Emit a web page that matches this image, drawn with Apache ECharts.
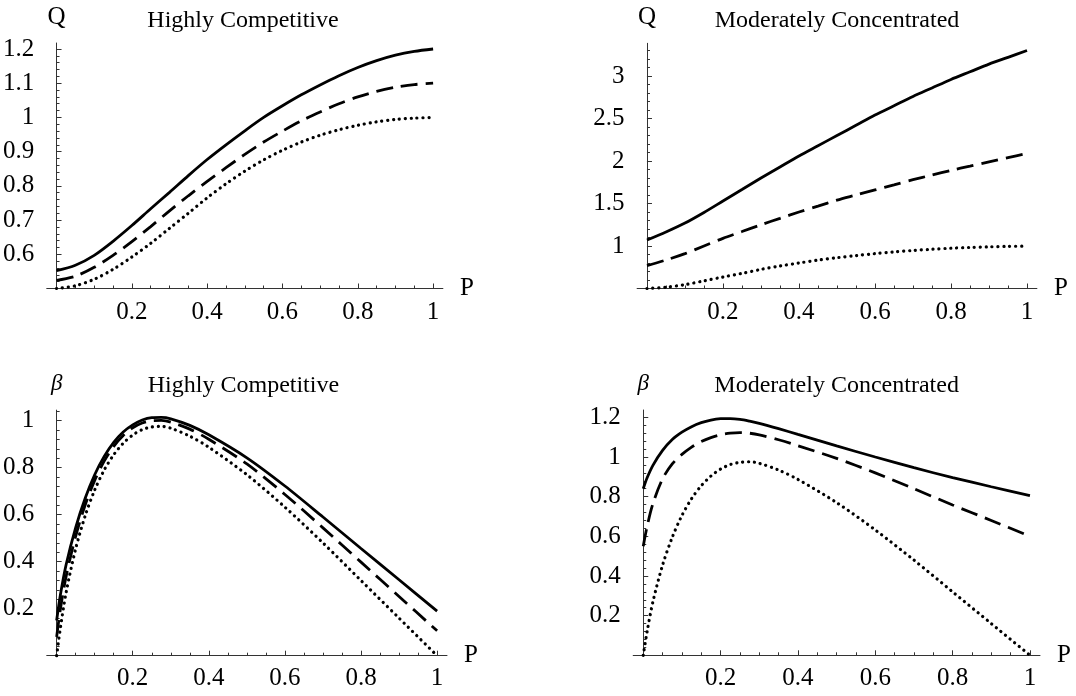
<!DOCTYPE html>
<html>
<head>
<meta charset="utf-8">
<script src="https://cdn.jsdelivr.net/npm/echarts@6/dist/echarts.min.js"></script>
<style>html,body{margin:0;padding:0;background:#fff}#c{width:1076px;height:696px}</style>
</head>
<body>
<div id="c"></div>
<script>
// ---- data ----
const pQ = [0,0.05,0.1,0.15,0.2,0.25,0.3,0.35,0.4,0.45,0.5,0.55,0.6,0.65,0.7,0.75,0.8,0.85,0.9,0.95,1];
const qHighSolid  = [0.552,0.568,0.597,0.638,0.684,0.733,0.781,0.830,0.877,0.920,0.961,1.000,1.034,1.066,1.095,1.122,1.146,1.166,1.182,1.193,1.200];
const qHighDashed = [0.524,0.536,0.562,0.597,0.637,0.681,0.727,0.771,0.813,0.853,0.892,0.928,0.960,0.990,1.016,1.040,1.060,1.076,1.088,1.096,1.100];
const qHighDotted = [0.500,0.508,0.527,0.556,0.592,0.632,0.676,0.720,0.765,0.806,0.843,0.876,0.904,0.928,0.948,0.964,0.977,0.987,0.994,0.998,1.000];
const qModSolid   = [1.07,1.165,1.27,1.395,1.53,1.665,1.80,1.93,2.06,2.18,2.30,2.42,2.54,2.65,2.76,2.86,2.96,3.05,3.14,3.22,3.30];
const qModDashed  = [0.77,0.835,0.91,1.00,1.09,1.17,1.25,1.325,1.40,1.47,1.54,1.60,1.66,1.72,1.78,1.835,1.89,1.94,1.99,2.04,2.09];
const qModDotted  = [0.500,0.515,0.545,0.590,0.635,0.678,0.725,0.765,0.800,0.834,0.862,0.887,0.910,0.930,0.947,0.962,0.974,0.983,0.990,0.996,0.998];

const pB = [0,0.01,0.025,0.05,0.075,0.1,0.125,0.15,0.175,0.2,0.225,0.25,0.275,0.3,0.35,0.4,0.5,0.6,0.7,0.8,0.9,1];
const bHighSolid  = [0.15,0.26,0.388,0.545,0.67,0.77,0.848,0.908,0.952,0.982,1.003,1.013,1.014,1.008,0.980,0.940,0.842,0.722,0.590,0.456,0.323,0.19];
const bHighDashed = [0.08,0.20,0.338,0.508,0.641,0.746,0.828,0.891,0.937,0.970,0.990,1.000,1.001,0.994,0.964,0.921,0.816,0.686,0.544,0.398,0.252,0.106];
const bHighDotted = [0.0,0.12,0.27,0.455,0.595,0.705,0.79,0.855,0.904,0.939,0.962,0.973,0.976,0.968,0.934,0.887,0.770,0.632,0.480,0.320,0.160,0.0];
const bModSolid   = [0.84,0.895,0.958,1.033,1.088,1.125,1.153,1.173,1.186,1.193,1.194,1.190,1.181,1.170,1.143,1.114,1.056,1.000,0.946,0.896,0.850,0.805];
const bModDashed  = [0.55,0.65,0.765,0.89,0.965,1.013,1.05,1.078,1.098,1.112,1.12,1.123,1.12,1.112,1.087,1.057,0.993,0.92,0.84,0.758,0.68,0.60];
const bModDotted  = [0.0,0.12,0.27,0.455,0.595,0.705,0.79,0.855,0.904,0.939,0.962,0.973,0.976,0.968,0.934,0.887,0.770,0.632,0.480,0.320,0.160,0.0];

const xLabels = [0.2,0.4,0.6,0.8,1];
const yLabelsQHigh = [0.6,0.7,0.8,0.9,1,1.1,1.2];
const yLabelsQMod  = [1,1.5,2,2.5,3];
const yLabelsBHigh = [0.2,0.4,0.6,0.8,1];
const yLabelsBMod  = [0.2,0.4,0.6,0.8,1,1.2];
const titles = ['Highly Competitive','Moderately Concentrated','Highly Competitive','Moderately Concentrated'];

// ---- helpers ----
function steps(from, to, step) {
  const out = [];
  const n = Math.round((to - from) / step);
  for (let i = 0; i <= n; i++) out.push(+(from + i * step).toFixed(4));
  return out;
}
function zip(xs, ys) { return xs.map((x, i) => [x, ys[i]]); }

const FONT = 'Liberation Serif';
const AX = '#333';
const LBL = 25;
const fmt = v => String(+(+v).toFixed(4));

const panels = [
  {grid:{left:43.1, top:43.0, width:399.8, height:245.5}, y:[0.5,1.2175], yl:yLabelsQHigh, ym:steps(0.52,1.2,0.02), name:'Q',
   xs:pQ, s:[qHighSolid,qHighDashed,qHighDotted], titleTop:8.5},
  {grid:{left:637.1, top:43.3, width:399.8, height:245.2}, y:[0.5,3.385], yl:yLabelsQMod, ym:steps(0.6,3.3,0.1), name:'Q',
   xs:pQ, s:[qModSolid,qModDashed,qModDotted], titleTop:8.5},
  {grid:{left:39.9, top:410.1, width:407.1, height:245.6}, y:[0,1.045], yl:yLabelsBHigh, ym:steps(0.04,1.04,0.04), name:'β',
   xs:pB, s:[bHighSolid,bHighDashed,bHighDotted], titleTop:373.5},
  {grid:{left:633.2, top:410.0, width:406.8, height:245.3}, y:[0,1.237], yl:yLabelsBMod, ym:steps(0.04,1.2,0.04), name:'β',
   xs:pB, s:[bModSolid,bModDashed,bModDotted], titleTop:373.5}
];

const grid = [], xAxis = [], yAxis = [], series = [], title = [];
const styles = [
  {type:'solid', width:2.8},
  {type:[17,8], width:2.8},
  {type:[0.1,5.8], width:3.2, cap:'round'}
];

panels.forEach((p, i) => {
  grid.push(Object.assign({containLabel:false}, p.grid));
  const xr = [-0.026, 1.026];
  const xMinor = steps(0.05, 1, 0.05);
  xAxis.push({
    type:'value', gridIndex:i, min:xr[0], max:xr[1], position:'bottom',
    axisLine:{show:true, onZero:false, lineStyle:{color:AX, width:1}},
    axisTick:{show:true, inside:true, length:5, customValues:xLabels, lineStyle:{color:AX}},
    axisLabel:{show:true, customValues:xLabels, formatter:fmt, margin: i < 2 ? 11.5 : 10.5,
      fontFamily:FONT, fontSize:LBL, color:'#000'},
    splitLine:{show:false},
    name:'P', nameLocation:'end', nameGap:17,
    nameTextStyle:{fontFamily:FONT, fontSize:LBL, color:'#000', verticalAlign:'middle'}
  });
  xAxis.push({
    type:'value', gridIndex:i, min:xr[0], max:xr[1], position:'bottom',
    axisLine:{show:false, onZero:false},
    axisTick:{show:true, inside:true, length:3, customValues:xMinor, lineStyle:{color:AX}},
    axisLabel:{show:false},
    splitLine:{show:false}
  });
  yAxis.push({
    type:'value', gridIndex:i, min:p.y[0], max:p.y[1], position:'left',
    axisLine:{show:true, onZero:true, lineStyle:{color:AX, width:1}},
    axisTick:{show:true, inside:true, length:5, customValues:p.yl, lineStyle:{color:AX}},
    axisLabel:{show:true, customValues:p.yl, formatter:fmt, margin:12.5,
      fontFamily:FONT, fontSize:LBL, color:'#000'},
    splitLine:{show:false},
    name:p.name, nameLocation:'end', nameGap: i < 2 ? 13 : 15,
    nameTextStyle:{fontFamily:FONT, fontSize: i < 2 ? LBL : 23, fontStyle: i < 2 ? 'normal' : 'italic',
      color:'#000', align:'center', verticalAlign:'bottom'}
  });
  yAxis.push({
    type:'value', gridIndex:i, min:p.y[0], max:p.y[1], position:'left',
    axisLine:{show:false, onZero:true},
    axisTick:{show:true, inside:true, length:3, customValues:p.ym, lineStyle:{color:AX}},
    axisLabel:{show:false},
    splitLine:{show:false}
  });
  title.push({
    text:titles[i], left:p.grid.left + p.grid.width/2, top:p.titleTop, textAlign:'center', padding:0,
    textStyle:{fontFamily:FONT, fontSize:24, fontWeight:'normal', color:'#000'}
  });
  p.s.forEach((vals, k) => {
    series.push({
      type:'line', xAxisIndex:2*i, yAxisIndex:2*i, data:zip(p.xs, vals),
      showSymbol:false, smooth:0.3, clip:false, silent:true,
      lineStyle:Object.assign({color:'#000'}, styles[k])
    });
  });
});

const chart = echarts.init(document.getElementById('c'), null, {renderer:'canvas'});
chart.setOption({animation:false, backgroundColor:'#fff', title, grid, xAxis, yAxis, series});
</script>
</body>
</html>
